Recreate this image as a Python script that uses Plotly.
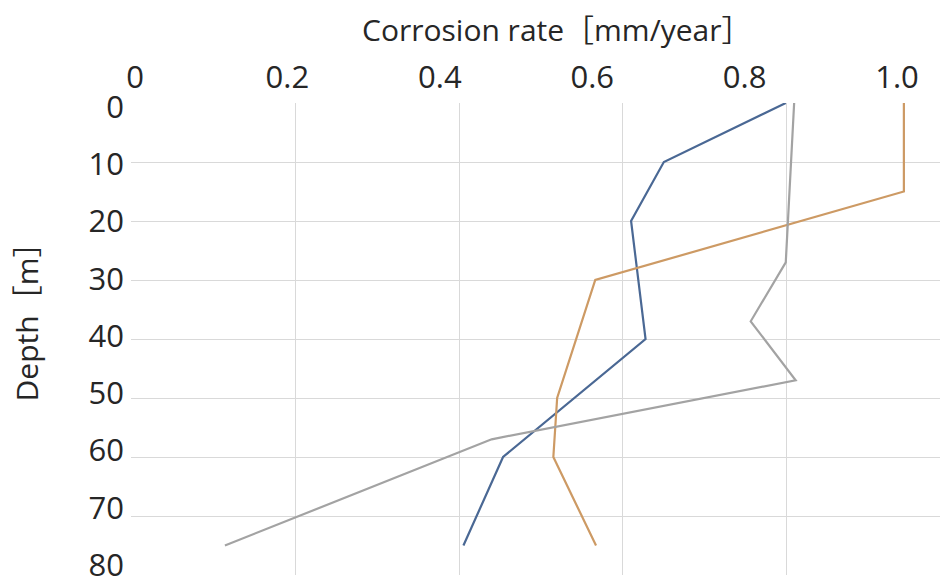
import plotly.graph_objects as go

# Depth [m] and corrosion rate [mm/year] per series
blue_depth = [0, 10, 20, 40, 60, 75]
blue_rate = [0.854, 0.694, 0.651, 0.670, 0.483, 0.431]

orange_depth = [0, 15, 30, 50, 60, 75]
orange_rate = [1.009, 1.009, 0.604, 0.554, 0.549, 0.605]

gray_depth = [0, 27, 37, 47, 57, 75]
gray_rate = [0.865, 0.854, 0.808, 0.867, 0.468, 0.118]

x_tick_vals = [0, 0.2, 0.4, 0.6, 0.8, 1.0]
x_tick_text = ["0", "0.2", "0.4", "0.6", "0.8", "1.0"]
y_tick_vals = [0, 10, 20, 30, 40, 50, 60, 70, 80]

x_title = "Corrosion rate［mm/year］"
y_title = "Depth［m］"

FONT = "Open Sans, Noto Sans CJK JP, sans-serif"
GRID = "#d9d9d9"
TXT = "#262626"

fig = go.Figure()

# invisible traces that carry the grid axes and the label axes
fig.add_trace(go.Scatter(x=[None], y=[None], xaxis="x", yaxis="y",
                         showlegend=False, hoverinfo="skip"))
fig.add_trace(go.Scatter(x=[None], y=[None], xaxis="x2", yaxis="y2",
                         showlegend=False, hoverinfo="skip"))

series = [
    (blue_rate, blue_depth, "#4a6894"),
    (orange_rate, orange_depth, "#cd9a64"),
    (gray_rate, gray_depth, "#a3a3a3"),
]
for xs, ys, col in series:
    fig.add_trace(go.Scatter(x=xs, y=ys, mode="lines", xaxis="x2", yaxis="y",
                             line=dict(color=col, width=2.2), showlegend=False))

fig.update_layout(
    width=940, height=579,
    margin=dict(l=131, r=0, t=103, b=4, autoexpand=False),
    paper_bgcolor="white", plot_bgcolor="white",
    font=dict(family=FONT, size=28, color=TXT),
    # grid axes
    xaxis=dict(range=[0, 0.9866], dtick=0.2, tick0=0, side="top",
               showgrid=True, gridcolor=GRID, gridwidth=1.3, automargin=False,
               showticklabels=False, zeroline=False, showline=False, ticks=""),
    yaxis=dict(range=[80, 0], tickvals=y_tick_vals, automargin=False,
               showgrid=True, gridcolor=GRID, gridwidth=1.3,
               showticklabels=False, zeroline=False, showline=False, ticks=""),
    # label axes
    xaxis2=dict(overlaying="x", side="top", range=[-0.00525, 1.0564],
                tickvals=x_tick_vals, ticktext=x_tick_text, automargin=False,
                showgrid=False, zeroline=False, showline=False, ticks="",
                ticklabeloverflow="allow",
                tickfont=dict(size=31, color=TXT), ticklabelstandoff=8),
    yaxis2=dict(overlaying="y", side="left", range=[81.75, -0.699],
                tickvals=y_tick_vals, automargin=False,
                showgrid=False, zeroline=False, showline=False, ticks="",
                ticklabeloverflow="allow",
                tickfont=dict(size=31, color=TXT), ticklabelstandoff=6),
    annotations=[
        dict(text=x_title, xref="paper", yref="paper", x=0.5255, y=1.1547,
             xanchor="center", yanchor="middle", showarrow=False,
             font=dict(size=30, color=TXT, family=FONT)),
        dict(text=y_title, xref="paper", yref="paper", x=-0.128, y=0.553,
             xanchor="center", yanchor="middle", showarrow=False, textangle=-90,
             font=dict(size=30, color=TXT, family=FONT)),
    ],
)

fig.write_html("out.html", config={"displayModeBar": False},
               post_script="document.body.style.margin='0';document.body.style.padding='0';")
